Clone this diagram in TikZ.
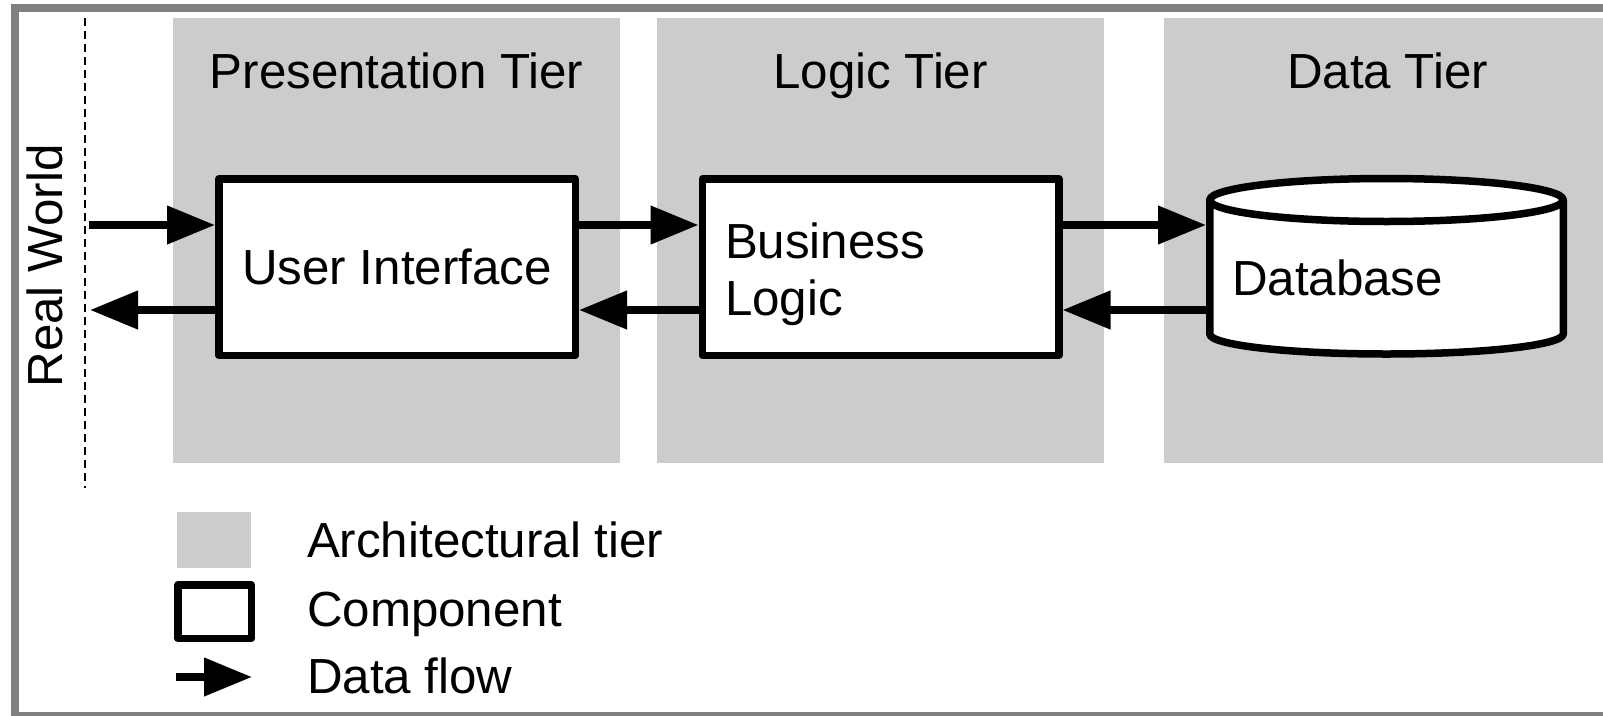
\documentclass[tikz,border=0pt]{standalone}
\usepackage{fontspec}
\setmainfont{Liberation Sans}
\usetikzlibrary{arrows.meta}
\definecolor{tiergray}{HTML}{CCCCCC}
\definecolor{framegray}{HTML}{808080}
\newcommand{\bigtxt}{\fontsize{49.3pt}{57pt}\selectfont}

\begin{document}
\begin{tikzpicture}[x=1pt, y=-1pt,
  txt/.style={font=\bigtxt, inner sep=0pt, outer sep=0pt},
  tier/.style={fill=tiergray, draw=none, inner sep=0pt, outer sep=0pt,
    minimum width=447pt, minimum height=445pt},
  comp/.style={draw=black, fill=white, line width=7.5pt, line join=round,
    inner sep=0pt, minimum width=356.5pt, minimum height=176.5pt, font=\bigtxt},
  flow/.style={draw=black, line width=7.5pt, -{Triangle[length=48pt, width=37pt]}},
  boundary/.style={draw=black, line width=2.7pt, dash pattern=on 8pt off 5pt},
]
\useasboundingbox (0,0) rectangle (1603,715);
\clip (0,0) rectangle (1603,715);
\fill[white] (0,0) rectangle (1603,715);

% outer frame
\draw[framegray, line width=8pt] (15,8) rectangle (1640,716);

% architectural tiers
\node[tier] (ptier) at (396.5,240.5) {};
\node[tier] (ltier) at (880.5,240.5) {};
\node[tier] (dtier) at (1387.5,240.5) {};
\node[txt, anchor=base] (ptitle) at (396.5,88) {Presentation Tier};
\node[txt, anchor=base] (ltitle) at (880.5,88) {Logic Tier};
\node[txt, anchor=base] (dtitle) at (1387.5,88) {Data Tier};

% real world boundary
\coordinate (rwtop) at (85,18);
\coordinate (rwbot) at (85,488);
\draw[boundary] (rwtop) -- (rwbot);
\node[txt, rotate=90, anchor=base] (rw) at (62,266) {Real World};

% components
\node[comp] (ui) at (397,267) {User Interface};
\node[comp] (bl) at (880.5,267) {};
\node[txt, anchor=north west, align=left] (bltext) at (725,222.8) {Business\\Logic};

% database cylinder
\node[inner sep=0pt, outer sep=0pt, minimum width=361pt, minimum height=183pt] (db) at (1386.5,267) {};
\filldraw[fill=white, draw=black, line width=7.5pt, line join=round]
  (1209.75,200) -- (1209.75,334)
  arc[start angle=180, end angle=360, x radius=176.75pt, y radius=20pt]
  -- (1563.25,200)
  arc[start angle=0, end angle=180, x radius=176.75pt, y radius=21.5pt] -- cycle;
\draw[black, line width=7.5pt]
  (1209.75,200) arc[start angle=180, end angle=360, x radius=176.75pt, y radius=21.5pt];
\node[txt, anchor=base west] (dbtext) at (1232,295) {Database};

% data flows
\coordinate (up) at (0,225);
\coordinate (lo) at (0,310);
\coordinate (rwin) at (89,225);
\coordinate (rwout) at (90,310);
\draw[flow] (rwin) -- (ui.west |- up);
\draw[flow] (ui.east |- up) -- (bl.west |- up);
\draw[flow] (bl.east |- up) -- (db.west |- up);
\draw[flow] (db.west |- lo) -- (bl.east |- lo);
\draw[flow] (bl.west |- lo) -- (ui.east |- lo);
\draw[flow] (ui.west |- lo) -- (rwout);

% legend
\node[fill=tiergray, inner sep=0pt, outer sep=0pt, minimum width=74pt, minimum height=56pt] (legtier) at (214,540) {};
\node[comp, minimum width=73.5pt, minimum height=53.5pt] (legcomp) at (214.5,611.5) {};
\coordinate (legfrom) at (176,677);
\coordinate (legto) at (252,677);
\draw[flow] (legfrom) -- (legto);
\node[txt, anchor=base west] (legtiertext) at (307,557) {Architectural tier};
\node[txt, anchor=base west] (legcomptext) at (307,626) {Component};
\node[txt, anchor=base west] (legflowtext) at (307,693) {Data flow};
\end{tikzpicture}
\end{document}
